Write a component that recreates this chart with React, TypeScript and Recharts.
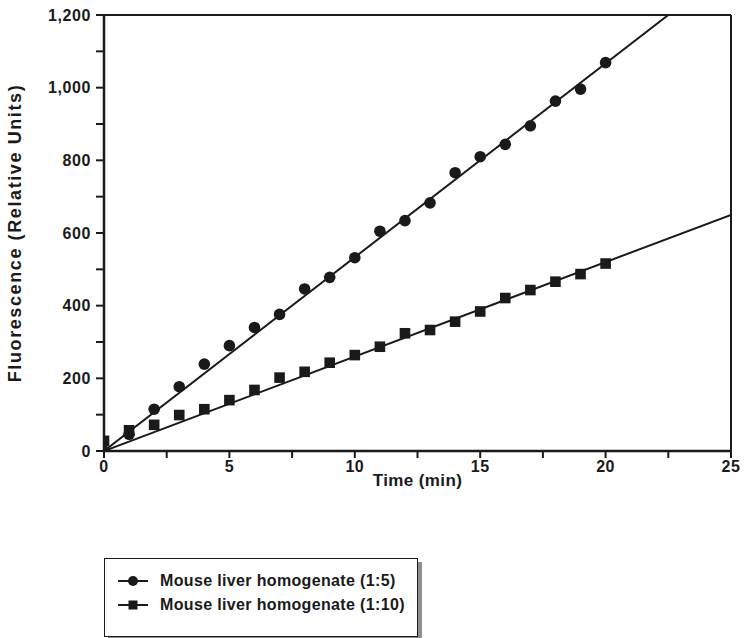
import React from "react";
import {
  ComposedChart,
  Scatter,
  Line,
  XAxis,
  YAxis,
  ReferenceLine,
  Legend,
} from "recharts";

// Time points (min)
const times = [0, 1, 2, 3, 4, 5, 6, 7, 8, 9, 10, 11, 12, 13, 14, 15, 16, 17, 18, 19, 20];
// Mouse liver homogenate (1:5) — circles
const dilution5 = [0, 46, 115, 177, 239, 290, 340, 376, 446, 478, 532, 605, 634, 683, 766, 810, 844, 895, 963, 996, 1069];
// Mouse liver homogenate (1:10) — squares
const dilution10 = [28, 57, 72, 99, 115, 140, 168, 202, 218, 243, 264, 287, 324, 333, 356, 384, 421, 443, 466, 487, 516];
// Fitted lines (endpoints)
const fit5 = [
  { t: 0, v: 0 },
  { t: 22.5, v: 1200 },
];
const fit10 = [
  { t: 0, v: 0 },
  { t: 25, v: 650 },
];
const xTicks = [0, 2.5, 5, 7.5, 10, 12.5, 15, 17.5, 20, 22.5, 25];
const yTicks = [0, 100, 200, 300, 400, 500, 600, 700, 800, 900, 1000, 1100, 1200];
const seriesNames = ["Mouse liver homogenate (1:5)", "Mouse liver homogenate (1:10)"];

const data5 = times.map((t, i) => ({ t, v: dilution5[i] }));
const data10 = times.map((t, i) => ({ t, v: dilution10[i] }));

const FONT = "'Liberation Sans', Arial, Helvetica, sans-serif";
const INK = "#1a1a1a";

const CircleShape = (props: any) => {
  const { cx, cy } = props;
  if (cx == null || cy == null) return null;
  return <circle cx={cx} cy={cy} r={5.8} fill={INK} />;
};
const SquareShape = (props: any) => {
  const { cx, cy } = props;
  if (cx == null || cy == null) return null;
  return <rect x={cx - 5.3} y={cy - 5.3} width={10.6} height={10.6} fill={INK} />;
};

const LegendBox = () => (
  <div
    style={{
      width: 314,
      height: 79,
      border: `1.5px solid ${INK}`,
      background: "#fff",
      boxShadow: "4px 4px 0 #8f8f8f",
      fontFamily: FONT,
      fontWeight: 700,
      fontSize: 16,
      letterSpacing: 0.35,
      color: INK,
      boxSizing: "border-box",
      paddingTop: 10,
      paddingLeft: 12,
    }}
  >
    {seriesNames.map((name, i) => (
      <div key={name} style={{ display: "flex", alignItems: "center", height: 24 }}>
        <svg width={32} height={12} style={{ marginRight: 11 }}>
          <line x1={1} y1={6} x2={31} y2={6} stroke={INK} strokeWidth={2} />
          {i === 0 ? (
            <circle cx={16} cy={6} r={5} fill={INK} />
          ) : (
            <rect x={11.5} y={1.5} width={9} height={9} fill={INK} />
          )}
        </svg>
        <span>{name}</span>
      </div>
    ))}
  </div>
);

export default function App() {
  return (
    <div style={{ position: "absolute", left: 0, top: 0 }}>
      <ComposedChart
        width={744}
        height={638}
        margin={{ top: 15, right: 13, left: 0, bottom: 0 }}
      >
        <XAxis
          type="number"
          dataKey="t"
          domain={[0, 25]}
          ticks={xTicks}
          interval={0}
          allowDataOverflow
          height={187}
          tickSize={7}
          tickMargin={3}
          tickFormatter={(v: number) => (v % 5 === 0 ? String(v) : "")}
          axisLine={{ stroke: INK, strokeWidth: 2.5 }}
          tickLine={{ stroke: INK, strokeWidth: 2 }}
          tick={{ fontFamily: FONT, fontWeight: 700, fontSize: 16, fill: INK, style: { letterSpacing: 0.5 } }}
          label={{
            value: "Time (min)",
            position: "insideTop",
            offset: 23,
            style: { fontFamily: FONT, fontWeight: 700, fontSize: 17, fill: INK, letterSpacing: 0.4 },
          }}
        />
        <YAxis
          type="number"
          dataKey="v"
          domain={[0, 1200]}
          ticks={yTicks}
          interval={0}
          allowDataOverflow
          width={104}
          tickSize={8}
          tickMargin={5}
          tickFormatter={(v: number) => (v % 200 === 0 ? v.toLocaleString("en-US") : "")}
          axisLine={{ stroke: INK, strokeWidth: 2.5 }}
          tickLine={{ stroke: INK, strokeWidth: 2 }}
          tick={{ fontFamily: FONT, fontWeight: 700, fontSize: 16, fill: INK, style: { letterSpacing: 0.6 } }}
          label={{
            value: "Fluorescence (Relative Units)",
            angle: -90,
            position: "insideLeft",
            offset: 15,
            style: {
              textAnchor: "middle",
              fontFamily: FONT,
              fontWeight: 700,
              fontSize: 18,
              fill: INK,
              letterSpacing: 1.6,
            },
          }}
        />
        <ReferenceLine y={1200} stroke={INK} strokeWidth={2} />
        <ReferenceLine x={25} stroke={INK} strokeWidth={2} />
        <Line
          data={fit5}
          dataKey="v"
          stroke={INK}
          strokeWidth={2}
          dot={false}
          activeDot={false}
          legendType="none"
          isAnimationActive={false}
        />
        <Line
          data={fit10}
          dataKey="v"
          stroke={INK}
          strokeWidth={2}
          dot={false}
          activeDot={false}
          legendType="none"
          isAnimationActive={false}
        />
        <Scatter
          name={seriesNames[0]}
          data={data5}
          dataKey="v"
          shape={<CircleShape />}
          isAnimationActive={false}
        />
        <Scatter
          name={seriesNames[1]}
          data={data10}
          dataKey="v"
          shape={<SquareShape />}
          isAnimationActive={false}
        />
        <Legend
          layout="vertical"
          align="center"
          verticalAlign="middle"
          content={() => <LegendBox />}
          wrapperStyle={{ position: "absolute", left: 104, top: 558, width: 318, height: 83 }}
        />
      </ComposedChart>
    </div>
  );
}
